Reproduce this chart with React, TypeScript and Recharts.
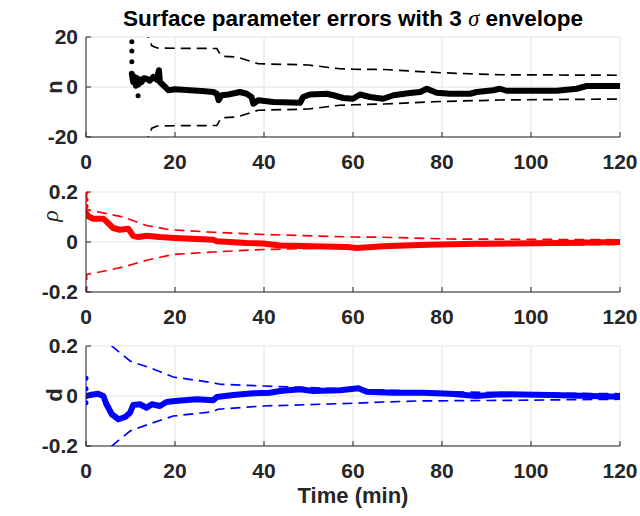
import React from 'react';
import { LineChart, Line, XAxis, YAxis, CartesianGrid } from 'recharts';

// ---------- data ----------
const xTicks = [0, 20, 40, 60, 80, 100, 120];
const nTicks = [-20, 0, 20];
const rTicks = [-0.2, 0, 0.2];
const dTicks = [-0.2, 0, 0.2];

// n (black)
const nTime = [10.3, 10.6, 10.9, 11.2, 11.5, 11.8, 12.2, 12.5, 13.0, 13.6, 14.3, 15.1, 15.8, 16.4, 16.6, 17.2, 17.8, 18.5, 20, 23.4, 26, 28.6, 29.4, 29.8, 30.5, 32, 34.6, 36.1, 37.2, 37.6, 38.7, 42.1, 48.1, 48.8, 50.3, 54.1, 55.6, 57.8, 60, 61.6, 63.8, 66.8, 69.1, 72.8, 75.1, 76.6, 78.8, 81.8, 86.3, 87.8, 91.5, 93, 94.5, 99.8, 105.8, 110.3, 112.5, 120];
const nErr = [5.3, 2, 4, 0.5, 3.5, 1, 3, 2, 3.5, 3.3, 2.5, 4, 3, 6.7, 2, 1, 0, -1.3, -0.9, -1.3, -1.6, -2, -2.7, -5.3, -3.3, -3, -2, -2.7, -4, -6.7, -5.3, -6, -6.3, -4, -3, -2.7, -3.3, -4.4, -4.7, -3, -4, -4.7, -3.3, -2.4, -2, -0.7, -2.3, -2.7, -2.7, -2, -1.3, -0.7, -1.5, -1.5, -1.5, -0.7, 0.4, 0.4];
const nDotTime = [10.3, 10.3, 10.3, 11.7];
const nDotErr = [18.1, 14.4, 10.1, -3.5];
const nUpTime = [13.3, 14.0, 14.8, 16, 20, 29.4, 30.4, 33.9, 38.7, 50, 57, 60, 67, 79.6, 93, 120];
const nUp = [30, 20, 16.5, 15.6, 15.5, 15.4, 12.3, 12, 9.3, 8.8, 7.3, 7.1, 7.0, 5.7, 4.9, 4.7];
const nLoTime = [13.3, 14.0, 14.8, 16, 20, 29.4, 30.4, 33.9, 38.7, 50, 57, 60, 67, 79.6, 93, 120];
const nLo = [-30, -20, -16.5, -15.6, -15.5, -15.4, -12.3, -12, -9.3, -8.8, -7.3, -7.1, -6.8, -5.8, -5.2, -4.8];

// rho (red)
const rTime = [0, 0.5, 1.6, 3.9, 4.6, 6.1, 7.6, 9.5, 10.6, 11.8, 13.6, 16.6, 20, 24.9, 28.6, 29.4, 36.1, 39.8, 43.6, 51, 58.6, 60.8, 66.8, 76.6, 87.8, 106.5, 120];
const rErr = [0.116, 0.103, 0.093, 0.093, 0.082, 0.056, 0.049, 0.053, 0.025, 0.02, 0.025, 0.02, 0.016, 0.012, 0.009, 0.003, -0.004, -0.006, -0.014, -0.017, -0.02, -0.024, -0.017, -0.011, -0.007, -0.004, 0];
const rDotTime = [0, 0, 0];
const rDotErr = [0.2, 0.17, 0.143];
const rUpTime = [0, 0.15, 3.1, 8.4, 13.6, 18.9, 28.6, 39.8, 60, 66.8, 81.8, 120];
const rUp = [0.6, 0.13, 0.119, 0.1, 0.066, 0.049, 0.039, 0.03, 0.02, 0.019, 0.012, 0.009];
const rLoTime = [0, 0.15, 3.1, 8.4, 13.6, 19.5, 28.6, 39.8, 60, 81.8, 120];
const rLo = [-0.6, -0.13, -0.12, -0.1, -0.073, -0.05, -0.04, -0.03, -0.022, -0.015, -0.01];

// d (blue)
const dTime = [0.15, 0.9, 2.7, 3.9, 4.6, 5.8, 7.3, 8.8, 9.9, 10.6, 12.1, 13.6, 14.8, 16.6, 18.1, 20, 24.9, 28.6, 29.4, 33.1, 37.6, 41.3, 43.6, 48.1, 51, 57.1, 61.2, 63.1, 69.1, 75.8, 81.8, 87.8, 93, 104.3, 120];
const dErr = [0, 0.004, 0.009, 0, -0.033, -0.073, -0.093, -0.084, -0.067, -0.036, -0.033, -0.047, -0.033, -0.04, -0.024, -0.02, -0.013, -0.017, -0.004, 0.004, 0.011, 0.013, 0.02, 0.027, 0.02, 0.023, 0.031, 0.017, 0.013, 0.013, 0.009, 0, 0.007, 0.004, -0.003];
const dDotTime = [0, 0, 0];
const dDotErr = [0.071, 0.029, -0.027];
const dUpTime = [3.0, 5.8, 9.9, 11.6, 14.4, 19.6, 28.6, 30.1, 39.8, 60, 80, 100, 120];
const dUp = [0.32, 0.2, 0.14, 0.129, 0.113, 0.076, 0.053, 0.047, 0.04, 0.027, 0.017, 0.012, 0.009];
const dLoTime = [3.0, 5.8, 9.9, 14.4, 19.6, 28.6, 29.6, 39.8, 60, 66.8, 74.3, 96.8, 120];
const dLo = [-0.32, -0.2, -0.14, -0.111, -0.08, -0.063, -0.053, -0.04, -0.029, -0.024, -0.02, -0.017, -0.013];

const zip = (ts: number[], vs: number[]) => ts.map((t, i) => ({ t, v: vs[i] }));

// ---------- styles ----------
const AX = '#262626';
const GRID = '#e2e2e2';
const FONT = '"Liberation Sans", Arial, Helvetica, sans-serif';
const SERIF = '"Liberation Serif", "Times New Roman", serif';
const tickStyle = { fill: AX, fontSize: 21, fontWeight: 700, fontFamily: FONT };
const MT = 15;

type PanelProps = {
  top: number;
  color: string;
  domain: [number, number];
  yTicks: number[];
  main: { t: number; v: number }[];
  dots: { t: number; v: number }[];
  up: { t: number; v: number }[];
  lo: { t: number; v: number }[];
};

const Panel = ({ top, color, domain, yTicks, main, dots, up, lo }: PanelProps) => (
  <div style={{ position: 'absolute', left: 0, top: top - MT }}>
    <LineChart width={640} height={MT + 100 + 40} margin={{ top: MT, right: 20, bottom: 0, left: 0 }}>
      <CartesianGrid stroke={GRID} strokeWidth={1} />
      <XAxis
        type="number"
        dataKey="t"
        domain={[0, 120]}
        ticks={xTicks}
        allowDataOverflow
        height={40}
        stroke={AX}
        tickSize={-5}
        tickMargin={22}
        tick={tickStyle}
        interval={0}
      />
      <XAxis
        xAxisId="top"
        orientation="top"
        type="number"
        dataKey="t"
        domain={[0, 120]}
        ticks={xTicks}
        height={0}
        stroke={AX}
        tickSize={-5}
        tick={false}
        interval={0}
      />
      <YAxis
        type="number"
        domain={domain}
        ticks={yTicks}
        allowDataOverflow
        width={86}
        stroke={AX}
        tickSize={-5}
        tickMargin={13}
        tick={tickStyle}
        interval={0}
      />
      <YAxis
        yAxisId="right"
        orientation="right"
        type="number"
        domain={domain}
        ticks={yTicks}
        width={0}
        stroke={AX}
        tickSize={-5}
        tick={false}
        interval={0}
      />
      <Line data={up} dataKey="v" stroke={color} strokeWidth={1.7} strokeDasharray="10 6" dot={false} isAnimationActive={false} type="linear" />
      <Line data={lo} dataKey="v" stroke={color} strokeWidth={1.7} strokeDasharray="10 6" dot={false} isAnimationActive={false} type="linear" />
      <Line data={main} dataKey="v" stroke={color} strokeWidth={6} strokeLinejoin="round" strokeLinecap="round" dot={false} isAnimationActive={false} type="linear" />
      <Line data={dots} dataKey="v" stroke="none" dot={{ r: 2.5, fill: color, stroke: 'none' }} isAnimationActive={false} type="linear" />
    </LineChart>
  </div>
);

export default function App() {
  return (
    <div style={{ position: 'absolute', left: 0, top: 0, width: 640, height: 516, background: '#fff' }}>
      <Panel top={37} color="#000000" domain={[-20, 20]} yTicks={nTicks} main={zip(nTime, nErr)} dots={zip(nDotTime, nDotErr)} up={zip(nUpTime, nUp)} lo={zip(nLoTime, nLo)} />
      <Panel top={192} color="#ff0000" domain={[-0.2, 0.2]} yTicks={rTicks} main={zip(rTime, rErr)} dots={zip(rDotTime, rDotErr)} up={zip(rUpTime, rUp)} lo={zip(rLoTime, rLo)} />
      <Panel top={346} color="#0000ff" domain={[-0.2, 0.2]} yTicks={dTicks} main={zip(dTime, dErr)} dots={zip(dDotTime, dDotErr)} up={zip(dUpTime, dUp)} lo={zip(dLoTime, dLo)} />
      <svg width={640} height={516} style={{ position: 'absolute', left: 0, top: 0, pointerEvents: 'none' }}>
        <text x={353} y={26} textAnchor="middle" fontFamily={FONT} fontWeight={700} fontSize={22.5} fill="#000">
          Surface parameter errors with 3{' '}
          <tspan fontFamily={SERIF} fontStyle="italic" fontWeight={400}>σ</tspan>
          {' '}envelope
        </text>
        <text transform="translate(62,87) rotate(-90)" textAnchor="middle" fontFamily={FONT} fontWeight={700} fontSize={22} fill={AX}>n</text>
        <text transform="translate(58,216) rotate(-90)" textAnchor="middle" fontFamily={SERIF} fontStyle="italic" fontSize={24} fill={AX}>ρ</text>
        <text transform="translate(62,395) rotate(-90)" textAnchor="middle" fontFamily={FONT} fontWeight={700} fontSize={22} fill={AX}>d</text>
        <text x={353} y={503} textAnchor="middle" fontFamily={FONT} fontWeight={700} fontSize={22} fill={AX}>Time (min)</text>
      </svg>
    </div>
  );
}
